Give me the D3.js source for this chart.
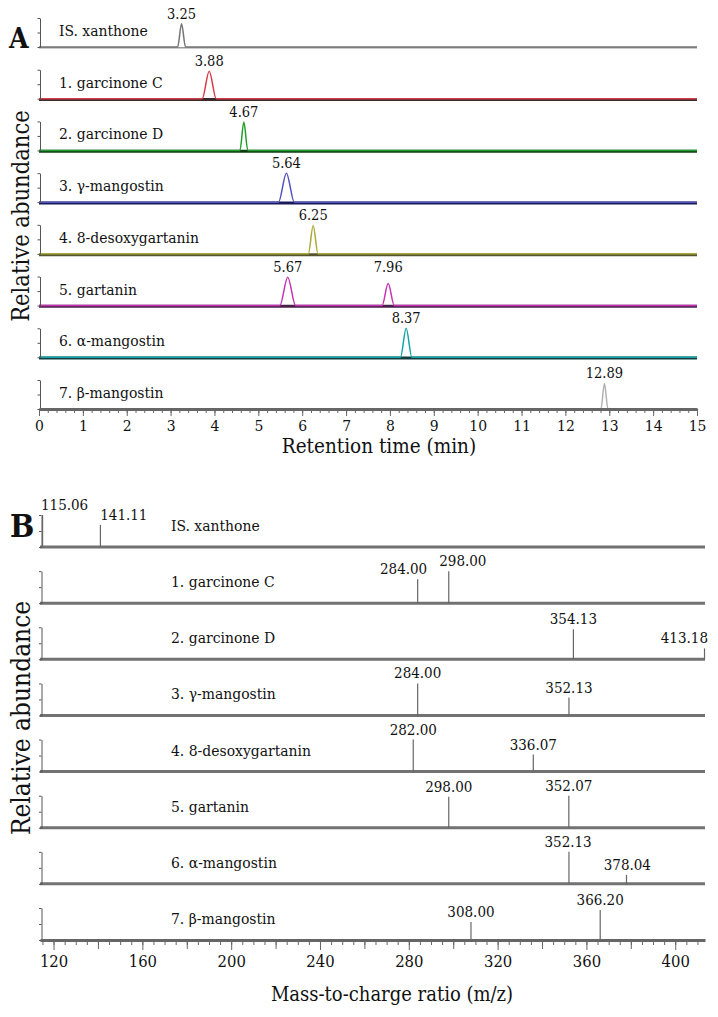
<!DOCTYPE html>
<html lang='en'>
  <head>
    <meta charset='utf-8'>
    <title>Chromatograms and MS spectra</title>
    <script type='text/javascript' src='https://cdn.jsdelivr.net/npm/d3@7/dist/d3.min.js'></script>
    <style type='text/css'>
    body { margin: 0; background: #fff; }
    svg text { font-family: 'DejaVu Serif Condensed', 'Liberation Serif', serif; fill: #111; }
    .axis path, .axis line { fill: none; stroke: #666; }
    .bracket path, .bracket line { fill: none; stroke: #555; stroke-width: 1; }
    </style>
  </head>
  <body>
    <script type='text/javascript'>

    var w = 718;
    var h = 1017;

    var compounds = ['IS. xanthone', '1. garcinone C', '2. garcinone D', '3. γ-mangostin',
                     '4. 8-desoxygartanin', '5. gartanin', '6. α-mangostin', '7. β-mangostin'];

    // panel A: retention times (min), peak heights (%), half base widths (min)
    var rtTimes   = [[3.25], [3.88], [4.67], [5.64], [6.25], [5.67, 7.96], [8.37], [12.89]];
    var rtHeights = [[80], [95], [98], [100], [98], [98, 76], [100], [88]];
    var rtWidths  = [[0.09], [0.16], [0.09], [0.18], [0.11], [0.18, 0.14], [0.13], [0.08]];
    var rtTicks   = [0, 1, 2, 3, 4, 5, 6, 7, 8, 9, 10, 11, 12, 13, 14, 15];

    // panel B: m/z of the labelled ions and their relative intensities (%)
    var msMz  = [[115.06, 141.11], [284.00, 298.00], [354.13, 413.18], [284.00, 352.13],
                 [282.00, 336.07], [298.00, 352.07], [352.13, 378.04], [308.00, 366.20]];
    var msInt = [[100, 69], [75, 100], [94, 34], [100, 56], [100, 53], [97, 100], [100, 28], [56, 94]];
    var msTicks = [120, 160, 200, 240, 280, 320, 360, 400];

    // trace colours for panel A
    var traceColors = ['#747474', '#d43c48', '#1e9f2c', '#5252bb', '#aaaa3a', '#c832b6', '#16a4a8', '#b0b0b0'];
    var baseColors  = ['#9a9a9a', '#3a2a2a', '#0d3d10', '#1a1a5a', '#555530', '#4a2048', '#103c3e', '#6e6e6e'];

    var svg = d3.select('body')
                .append('svg')
                .attr('width', w)
                .attr('height', h);

    /* ---------- panel A ---------- */
    var xA = d3.scaleLinear().domain([0, 15]).range([39, 697]);
    var rowA = d3.scalePoint().domain(compounds).range([47, 409]);
    var yA = d3.scaleLinear().domain([0, 100]).range([0, -29]);

    var line = d3.line()
                 .x(function(d){ return xA(d[0]); })
                 .y(function(d){ return yA(d[1]); })
                 .curve(d3.curveMonotoneX);

    compounds.forEach(function(name, i){
      var g = svg.append('g').attr('transform', 'translate(0,' + rowA(name) + ')');

      if (i < compounds.length - 1) {
        g.append('line')
         .attr('x1', xA(0)).attr('x2', xA(15))
         .attr('y1', 0.8).attr('y2', 0.8)
         .attr('stroke', baseColors[i])
         .attr('stroke-width', i == 0 ? 1.6 : 3);
      }

      var pts = [[0, 0]];
      rtTimes[i].forEach(function(t, j){
        pts.push([t - rtWidths[i][j], 0], [t, rtHeights[i][j]], [t + rtWidths[i][j], 0]);
      });
      pts.push([15, 0]);

      g.append('path')
       .attr('class', 'trace')
       .attr('d', line(pts))
       .attr('fill', 'none')
       .attr('stroke', traceColors[i])
       .attr('stroke-width', 1.5);

      g.append('g')
       .attr('class', 'bracket')
       .attr('transform', 'translate(' + (xA(0) + 1) + ',0)')
       .call(d3.axisLeft(yA).tickValues([0, 50, 100]).tickSize(2.5).tickSizeOuter(0).tickFormat(''));

      g.append('text')
       .attr('x', 59)
       .attr('y', -11)
       .attr('font-size', '15.5px')
       .text(name);

      // labels of one row share the height of its tallest peak
      var top = d3.max(rtHeights[i]);
      g.selectAll('text.peak')
       .data(rtTimes[i])
       .enter()
       .append('text')
       .attr('class', 'peak')
       .attr('x', function(d){ return xA(d); })
       .attr('y', yA(top) - 5)
       .attr('text-anchor', 'middle')
       .attr('font-size', '14.5px')
       .text(function(d){ return d.toFixed(2); });
    });

    var axisAy = rowA(compounds[compounds.length - 1]);
    var minorA = d3.range(0, 15.001, 0.2);

    svg.append('g')
       .attr('class', 'axis')
       .attr('transform', 'translate(0,' + axisAy + ')')
       .call(d3.axisBottom(xA).tickValues(minorA).tickSize(4).tickSizeOuter(0).tickFormat(''))
       .select('.domain').attr('stroke-width', 3).attr('stroke', '#777');

    var axA = svg.append('g')
       .attr('class', 'axis')
       .attr('transform', 'translate(0,' + axisAy + ')')
       .call(d3.axisBottom(xA).tickValues(rtTicks).tickSize(7).tickSizeOuter(0).tickPadding(4));
    axA.select('.domain').remove();
    axA.selectAll('text').attr('font-size', '15.5px').attr('fill', '#111');

    // keep the last trace above the axis
    svg.selectAll('path.trace').filter(function(d, i){ return i == compounds.length - 1; }).raise();

    svg.append('text')
       .attr('x', 379).attr('y', 453)
       .attr('text-anchor', 'middle')
       .attr('font-size', '20.5px')
       .text('Retention time (min)');

    svg.append('text')
       .attr('transform', 'translate(29,216) rotate(-90)')
       .attr('text-anchor', 'middle')
       .attr('font-size', '23.5px')
       .text('Relative abundance');

    svg.append('text')
       .attr('x', 9).attr('y', 48)
       .attr('font-size', '28px')
       .attr('font-weight', 'bold')
       .text('A');

    /* ---------- panel B ---------- */
    var xB = d3.scaleLinear().domain([113.9, 413.4]).range([40, 705]);
    var rowB = d3.scalePoint().domain(compounds).range([547, 940]);
    var yB = d3.scaleLinear().domain([0, 100]).range([0, -32]);

    compounds.forEach(function(name, i){
      var g = svg.append('g').attr('transform', 'translate(0,' + rowB(name) + ')');

      if (i < compounds.length - 1) {
        g.append('line')
         .attr('x1', xB.range()[0]).attr('x2', xB.range()[1])
         .attr('y1', 0).attr('y2', 0)
         .attr('stroke', '#727272')
         .attr('stroke-width', 3);
      }

      g.selectAll('line.stick')
       .data(msMz[i])
       .enter()
       .append('line')
       .attr('class', 'stick')
       .attr('x1', function(d){ return xB(d); })
       .attr('x2', function(d){ return xB(d); })
       .attr('y1', 0)
       .attr('y2', function(d, j){ return yB(msInt[i][j]); })
       .attr('stroke', '#666')
       .attr('stroke-width', 1.2);

      g.append('g')
       .attr('class', 'bracket')
       .attr('transform', 'translate(' + (xB.range()[0] + 1.5) + ',0)')
       .call(d3.axisLeft(yB).tickValues([0, 50, 100]).tickSize(2.5).tickSizeOuter(0).tickFormat(''));

      g.append('text')
       .attr('x', 171)
       .attr('y', -16)
       .attr('font-size', '15.5px')
       .text(name);

      var labels = g.selectAll('text.peak')
       .data(msMz[i])
       .enter()
       .append('text')
       .attr('class', 'peak')
       .attr('x', function(d){ return xB(d); })
       .attr('y', function(d, j){ return yB(msInt[i][j]) - 5; })
       .attr('text-anchor', 'middle')
       .attr('font-size', '15px')
       .text(function(d){ return d.toFixed(2); });

      // nudge labels apart and keep them inside the plot
      var boxes = [];
      labels.each(function(d){
        var lw = this.getComputedTextLength();
        var cx = xB(d), fixed = false;
        if (cx - lw / 2 < 41) { cx = 41 + lw / 2; fixed = true; }
        if (cx + lw / 2 > 708) { cx = 708 - lw / 2; fixed = true; }
        boxes.push({el: this, cx: cx, w: lw, fixed: fixed});
      });
      for (var k = 1; k < boxes.length; k++) {
        var a = boxes[k - 1], b = boxes[k];
        var need = (a.cx + a.w / 2 + 12) - (b.cx - b.w / 2);
        if (need > 0) {
          if (a.fixed) { b.cx += need; }
          else if (b.fixed) { a.cx -= need; }
          else { a.cx -= need / 2; b.cx += need / 2; }
        }
      }
      boxes.forEach(function(bx){ d3.select(bx.el).attr('x', bx.cx); });
    });

    var axisBy = rowB(compounds[compounds.length - 1]);
    var minorB = d3.range(115, 413, 5);
    var midB = d3.range(140, 400, 40);

    svg.append('g')
       .attr('class', 'axis')
       .attr('transform', 'translate(0,' + axisBy + ')')
       .call(d3.axisBottom(xB).tickValues(minorB).tickSize(5).tickSizeOuter(0).tickFormat(''))
       .select('.domain').attr('stroke-width', 3).attr('stroke', '#777');

    svg.append('g')
       .attr('class', 'axis')
       .attr('transform', 'translate(0,' + axisBy + ')')
       .call(d3.axisBottom(xB).tickValues(midB).tickSize(9).tickSizeOuter(0).tickFormat(''))
       .select('.domain').remove();

    var axB = svg.append('g')
       .attr('class', 'axis')
       .attr('transform', 'translate(0,' + axisBy + ')')
       .call(d3.axisBottom(xB).tickValues(msTicks).tickSize(10).tickSizeOuter(0).tickPadding(5));
    axB.select('.domain').remove();
    axB.selectAll('text').attr('font-size', '16.5px').attr('fill', '#111');

    svg.selectAll('line.stick').raise();

    svg.append('text')
       .attr('x', 392).attr('y', 1001)
       .attr('text-anchor', 'middle')
       .attr('font-size', '20px')
       .text('Mass-to-charge ratio (m/z)');

    svg.append('text')
       .attr('transform', 'translate(30,718) rotate(-90)')
       .attr('text-anchor', 'middle')
       .attr('font-size', '26px')
       .text('Relative abundance');

    svg.append('text')
       .attr('x', 10).attr('y', 537)
       .attr('font-size', '32px')
       .attr('font-weight', 'bold')
       .text('B');

    </script>
  </body>
</html>
